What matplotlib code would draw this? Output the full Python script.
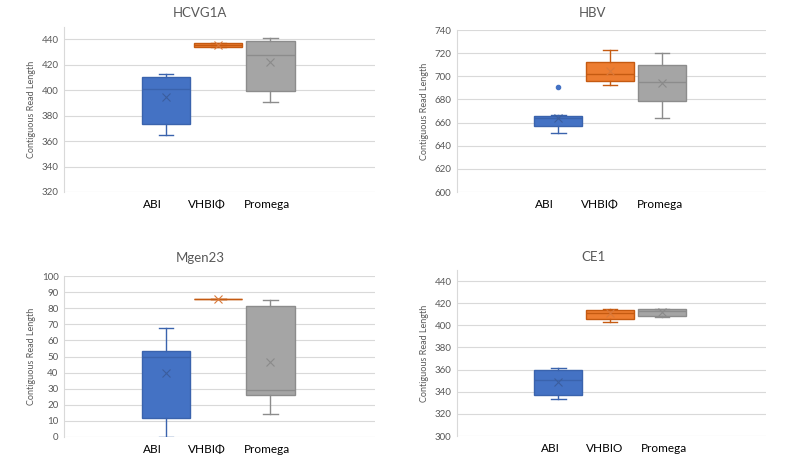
import matplotlib
matplotlib.use("Agg")
import matplotlib.pyplot as plt

plt.rcParams['font.family'] = ['Lato', 'DejaVu Sans']

titles = ["HCVG1A", "HBV", "Mgen23", "CE1"]
labels = [["ABI", "VHBIΦ", "Promega"],
          ["ABI", "VHBIΦ", "Promega"],
          ["ABI", "VHBIΦ", "Promega"],
          ["ABI", "VHBIO", "Promega"]]

# stats per panel: [whislo, q1, med, q3, whishi, mean] per series
hcv_abi = [365, 373.6, 401.2, 410.6, 412.9, 394.7]
hcv_vhbio = [434.0, 433.8, 435.5, 436.6, 437.1, 435.3]
hcv_promega = [391, 399.6, 427.8, 438.7, 440.8, 422]

hbv_abi = [651, 656.7, 664.2, 665.6, 666.2, 663.9]
hbv_vhbio = [692.4, 695.9, 702.2, 712.3, 722.7, 704.6]
hbv_promega = [664.2, 678.6, 695, 709.7, 720.2, 694]
hbv_abi_outliers = [691]

mg_abi = [0, 11.5, 49.5, 53.2, 68, 39.6]
mg_vhbio = [85.6, 85.6, 85.6, 85.6, 85.6, 85.5]
mg_promega = [14.2, 26, 29.1, 81.4, 85.2, 46.4]

ce_abi = [333.2, 336.8, 350.4, 359.5, 361.3, 348.6]
ce_vhbio = [402.9, 405.6, 411, 413.8, 414.7, 410.7]
ce_promega = [407.4, 408.3, 413.2, 414.7, 414.7, 412]

panels = [
    ([hcv_abi, hcv_vhbio, hcv_promega], [[], [], []]),
    ([hbv_abi, hbv_vhbio, hbv_promega], [hbv_abi_outliers, [], []]),
    ([mg_abi, mg_vhbio, mg_promega], [[], [], []]),
    ([ce_abi, ce_vhbio, ce_promega], [[], [], []]),
]
ylims = [(320, 449.5), (600, 740), (0, 100), (300, 450)]
yticks = [list(range(320, 441, 20)), list(range(600, 741, 20)),
          list(range(0, 101, 10)), list(range(300, 441, 20))]

fills = ["#4472C4", "#ED7D31", "#A5A5A5"]
edges = ["#3A63AD", "#C55A11", "#8C8C8C"]
meanc = ["#3B5E9E", "#D9793A", "#8A8A8A"]

W, H = 788, 468
# axes boxes in pixels: (left, top, right, bottom)
boxes = [(64, 27, 375, 192), (457, 30, 766, 192),
         (64, 276, 375, 437), (457, 270, 766, 436)]
title_pos = [(200, 13), (593, 13), (200, 258), (593, 257)]
# legend-like label positions (in box-position units)
label_x = [[0.75, 1.79, 2.93], [0.74, 1.80, 2.95],
           [0.75, 1.79, 2.93], [0.84, 1.89, 3.04]]

fig = plt.figure(figsize=(W / 100, H / 100), dpi=100)
fig.patch.set_facecolor("white")

for i in range(4):
    l, t, r, b = boxes[i]
    ax = fig.add_axes([l / W, 1 - b / H, (r - l) / W, (b - t) / H])
    series, outl = panels[i]
    for j, s in enumerate(series):
        st = dict(whislo=s[0], q1=s[1], med=s[2], q3=s[3], whishi=s[4],
                  mean=s[5], fliers=outl[j])
        ax.bxp([st], positions=[j + 1], widths=0.92, patch_artist=True,
               showmeans=True, showfliers=True, capwidths=0.28,
               boxprops=dict(facecolor=fills[j], edgecolor=edges[j], linewidth=1.0),
               medianprops=dict(color=edges[j], linewidth=1.0),
               whiskerprops=dict(color=edges[j], linewidth=1.0),
               capprops=dict(color=edges[j], linewidth=1.0),
               meanprops=dict(marker="x", markeredgecolor=meanc[j], markersize=6,
                              markeredgewidth=0.8),
               flierprops=dict(marker="o", markerfacecolor=fills[j],
                               markeredgecolor=fills[j], markersize=3))
    ax.set_xlim(-0.95, 5.0)
    ax.set_ylim(*ylims[i])
    ax.set_yticks(yticks[i])
    ax.set_xticks(label_x[i])
    ax.set_xticklabels(labels[i], fontsize=8.5, color="#000000")
    ax.tick_params(axis="y", length=0, labelsize=7, labelcolor="#595959", pad=4)
    ax.tick_params(axis="x", length=0, pad=5)
    ax.yaxis.grid(True, color="#D9D9D9", linewidth=0.8)
    ax.set_axisbelow(True)
    for sp in ["top", "right", "bottom"]:
        ax.spines[sp].set_visible(False)
    ax.spines["left"].set_color("#D9D9D9")
    ax.spines["left"].set_linewidth(0.8)
    ax.set_ylabel("Contiguous Read Length", fontsize=6.5, color="#595959", labelpad=4)
    tx, ty = title_pos[i]
    fig.text(tx / W, 1 - ty / H, titles[i], ha="center", va="center",
             fontsize=9.5, color="#595959")

fig.savefig("out.png", dpi=100, facecolor="white")
